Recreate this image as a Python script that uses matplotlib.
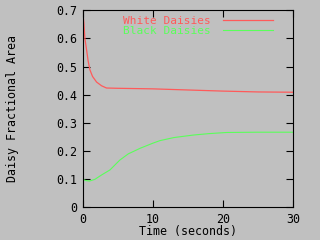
import matplotlib
matplotlib.use("Agg")
import matplotlib.pyplot as plt

# time (seconds) and daisy fractional area
t_white = [0, 0.19, 0.33, 0.57, 0.8, 1.04, 1.42, 2.0, 2.7, 3.4, 5, 10, 15, 20, 25, 30]
white = [0.70, 0.655, 0.60, 0.56, 0.519, 0.489, 0.465, 0.445, 0.432, 0.424,
         0.423, 0.421, 0.417, 0.413, 0.410, 0.409]

t_black = [0, 0.5, 1.0, 1.75, 2.7, 3.9, 5.3, 6.5, 8.2, 10, 11, 13, 15.8, 18, 20.5, 25, 30]
black = [0.100, 0.095, 0.0935, 0.0995, 0.115, 0.133, 0.168, 0.190, 0.210, 0.228, 0.237,
         0.248, 0.257, 0.262, 0.266, 0.267, 0.267]

red = "#ff5a5a"
green = "#5aff5a"
bg = "#c0c0c0"

plt.rcParams['font.family'] = ['DejaVu Sans Mono']
plt.rcParams['font.size'] = 8.4

fig = plt.figure(figsize=(3.2, 2.4), dpi=100, facecolor=bg)
ax = fig.add_axes([0.258, 0.136, 0.659, 0.821])
ax.set_facecolor(bg)

ax.plot(t_white, white, color=red, lw=0.9, label="White Daisies")
ax.plot(t_black, black, color=green, lw=0.8, label="Black Daisies")

ax.set_xlim(0, 30)
ax.set_ylim(0, 0.7)
ax.set_xticks([0, 10, 20, 30])
ax.set_yticks([0, 0.1, 0.2, 0.3, 0.4, 0.5, 0.6, 0.7])
ax.set_yticklabels(["0", "0.1", "0.2", "0.3", "0.4", "0.5", "0.6", "0.7"])
ax.tick_params(direction="in", length=5, width=0.8, top=True, right=True,
               pad=4, colors="black")
for s in ax.spines.values():
    s.set_linewidth(0.8)

ax.set_xlabel("Time (seconds)", labelpad=-0.8)
ax.set_ylabel("Daisy Fractional Area", labelpad=27)

leg = ax.legend(loc="upper right", bbox_to_anchor=(0.94, 1.01), frameon=False,
                markerfirst=False, handlelength=4.5, handletextpad=1.1,
                labelspacing=0.0, labelcolor="linecolor", borderpad=0.2,
                prop={'size': 8.0})

fig.savefig("out.png", dpi=100, facecolor=bg)
